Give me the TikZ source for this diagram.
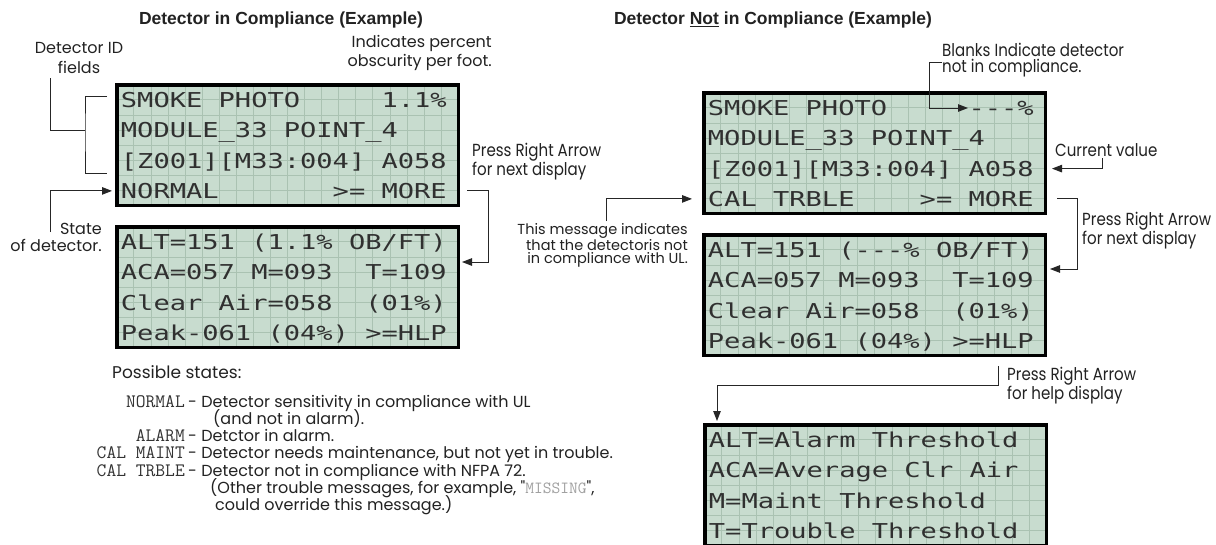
\documentclass[tikz,border=0pt]{standalone}
\usepackage{fontspec}
\usetikzlibrary{arrows.meta,calc}
\newfontfamily\annfont{Poppins}
\newfontfamily\annnarrow[FakeStretch=0.86]{Poppins}
\newfontfamily\ttlfont{Liberation Sans}
\newfontfamily\lcdfont[FakeStretch=1.32]{DejaVu Sans Mono}
\newcommand{\codefont}{\ttfamily}
\definecolor{lcdbg}{HTML}{C8DCCF}
\definecolor{lcdgridc}{HTML}{AAC2B2}
\definecolor{inkc}{HTML}{222222}
\definecolor{lcdink}{HTML}{303030}
\definecolor{codec}{HTML}{333333}
\definecolor{missc}{HTML}{A0A0A0}
\tikzset{
  lcd/.style={draw=black, line width=3.5pt, fill=lcdbg, minimum width=341.5pt,
    minimum height=120.5pt, inner sep=0pt, outer sep=0pt,
    path picture={
      \foreach \i in {1,...,19}{\draw[lcdgridc, line width=0.8pt]
        ($(path picture bounding box.north west)+(\i*17.075,0)$) -- ++(0,121);}
      \foreach \j in {1,...,7}{\draw[lcdgridc, line width=0.8pt]
        ($(path picture bounding box.north west)+(0,\j*15.1)$) -- ++(342,0);}
    }},
  lcdrow/.style={anchor=west, inner sep=0pt, text height=15pt, text depth=0pt,
    font=\lcdfont\fontsize{20.5}{24}\selectfont, text=lcdink},
  ttl/.style={font=\ttlfont\bfseries\fontsize{17.5}{20}\selectfont, text=inkc, inner sep=0pt},
  ann/.style={font=\annfont\fontsize{16}{19}\selectfont, text=inkc, inner sep=0pt},
  annn/.style={font=\annnarrow\fontsize{17.5}{17}\selectfont, text=inkc, inner sep=0pt},
  anns/.style={font=\annfont\fontsize{14.5}{13.5}\selectfont, text=inkc, inner sep=0pt},
  stcode/.style={font=\codefont\fontsize{19}{17}\selectfont, text=codec, inner sep=0pt, anchor=base east},
  stdesc/.style={font=\annfont\fontsize{16}{17}\selectfont, text=inkc, inner sep=0pt, anchor=base west},
  conn/.style={draw=black!85, line width=1pt},
  arr/.style={conn, -{Triangle[length=10pt,width=7.5pt]}},
}
\newcommand{\lcdpanel}[7]{%
  \node[lcd] (#1) at (#2,#3) {};
  \node[lcdrow] (#1-1) at ($(#1.north west)+(4,15.25)$) {#4};
  \node[lcdrow] (#1-2) at ($(#1.north west)+(4,45.55)$) {#5};
  \node[lcdrow] (#1-3) at ($(#1.north west)+(4,75.85)$) {#6};
  \node[lcdrow] (#1-4) at ($(#1.north west)+(4,106.15)$) {#7};
}
\begin{document}
\begin{tikzpicture}[x=1pt,y=-1pt]
\useasboundingbox[fill=white] (0,0) rectangle (1216,544);

% titles
\node[ttl] (titleL) at (281,20) {Detector in Compliance (Example)};
\node[ttl] (titleR) at (773,20) {Detector \underline{Not} in Compliance (Example)};

% LCD panels
\lcdpanel{L1}{287.5}{145}{SMOKE~PHOTO~~~~~1.1\%}{MODULE\_33~POINT\_4}{[Z001][M33:004]~A058}{NORMAL~~~~~~~>=~MORE}
\lcdpanel{L2}{287.5}{287}{ALT=151~(1.1\%~OB/FT)}{ACA=057~M=093~~T=109}{Clear~Air=058~~(01\%)}{Peak-061~(04\%)~>=HLP}
\lcdpanel{R1}{874.5}{153}{SMOKE~PHOTO~~~~~-{}-{}-\%}{MODULE\_33~POINT\_4}{[Z001][M33:004]~A058}{CAL~TRBLE~~~~>=~MORE}
\lcdpanel{R2}{874.5}{295}{ALT=151~(-{}-{}-\%~OB/FT)}{ACA=057~M=093~~T=109}{Clear~Air=058~~(01\%)}{Peak-061~(04\%)~>=HLP}
\lcdpanel{H}{875.5}{485}{ALT=Alarm~Threshold}{ACA=Average~Clr~Air}{M=Maint~Threshold}{T=Trouble~Threshold}

% left annotations
\node[ann, align=center, font=\annfont\fontsize{16}{20}\selectfont] (idlbl) at (79,58) {Detector ID\\fields};
\node[ann, align=right, anchor=east] (pctlbl) at (492,52.5) {Indicates percent\\obscurity per foot.};
\node[annn, align=left, anchor=west, font=\annnarrow\fontsize{17.5}{19}\selectfont] (pressL) at (472,161.5) {Press Right Arrow\\for next display};
\node[ann, align=right, anchor=east, font=\annfont\fontsize{16}{17}\selectfont] (statelbl) at (102,237) {State\\of detector.};

% possible states
\node[ann, anchor=base west, font=\annfont\fontsize{17}{19}\selectfont] (possible) at (112,378) {Possible states:};
\node[stcode] (cNormal) at (185,407) {NORMAL};
\node[stdesc] (dNormal) at (188,407) {- Detector sensitivity in compliance with UL};
\node[stdesc] (dNormal2) at (213,424) {(and not in alarm).};
\node[stcode] (cAlarm) at (185,441) {ALARM};
\node[stdesc] (dAlarm) at (188,441) {- Detctor in alarm.};
\node[stcode] (cMaint) at (185,458) {CAL MAINT};
\node[stdesc] (dMaint) at (188,458) {- Detector needs maintenance, but not yet in trouble.};
\node[stcode] (cTrble) at (185,476) {CAL TRBLE};
\node[stdesc] (dTrble) at (188,476) {- Detector not in compliance with NFPA 72.};
\node[stdesc] (dOther) at (210,493) {(Other trouble messages, for example, "\textcolor{missc}{\codefont\fontsize{17}{17}\selectfont MISSING}",};
\node[stdesc] (dOther2) at (215,510) {could override this message.)};

% right annotations
\node[anns, align=right, anchor=east] (msgR) at (688,245.5) {This message indicates\\that the detectoris not\\in compliance with UL.};
\node[annn, align=left, anchor=west, font=\annnarrow\fontsize{17.5}{16}\selectfont] (blanks) at (942,60) {Blanks Indicate detector\\not in compliance.};
\node[annn, anchor=west] (curval) at (1055,150) {Current value};
\node[annn, align=left, anchor=west] (pressR1) at (1082,230.5) {Press Right Arrow\\for next display};
\node[annn, align=left, anchor=west] (pressR2) at (1007,385.5) {Press Right Arrow\\for help display};

% connector coordinates
\coordinate (idA) at (50,78);
\coordinate (brM) at (85,130);
\coordinate (brT) at (107,96);
\coordinate (brB) at (107,173);
\coordinate (stA) at (50,232);
\coordinate (nTip) at ($(L1.west |- L1-4.west)+(-4.75,0)$);
\coordinate (m1) at ($(L1.east |- L1-4.west)+(8.75,0)$);
\coordinate (m2) at ($(L2.east)+(3.75,-25)$);
\coordinate (tm) at (606,221);
\coordinate (r1in) at ($(R1.west |- R1-4.west)+(-11.75,0)$);
\coordinate (bk1) at (942,62);
\coordinate (bkTip) at ($(R1.east |- R1-1.west)+(-77.25,0)$);
\coordinate (cv1) at (1102,158);
\coordinate (cvTip) at ($(R1.east |- R1-3.west)+(6.75,0)$);
\coordinate (r1m) at ($(R1.east |- R1-4.west)+(11.75,0)$);
\coordinate (r2Tip) at ($(R2.east)+(4.75,-26)$);
\coordinate (h1) at ($(R2.south)+(123.5,10.75)$);
\coordinate (hTip) at ($(H.north west)+(12.25,-3.75)$);

% connectors
\draw[conn] (idA) |- (brM);
\draw[conn] (brT) -| (brM) |- (brB);
\draw[arr] (stA) |- (nTip);
\draw[arr] (m1) -- ++(21,0) |- (m2);
\draw[arr] (tm) |- (r1in);
\draw[arr] (bk1) -- ++(-13,0) |- (bkTip);
\draw[arr] (cv1) |- (cvTip);
\draw[arr] (r1m) -- ++(20,0) |- (r2Tip);
\draw[arr] (h1) -- ++(0,19) -| (hTip);
\end{tikzpicture}
\end{document}
